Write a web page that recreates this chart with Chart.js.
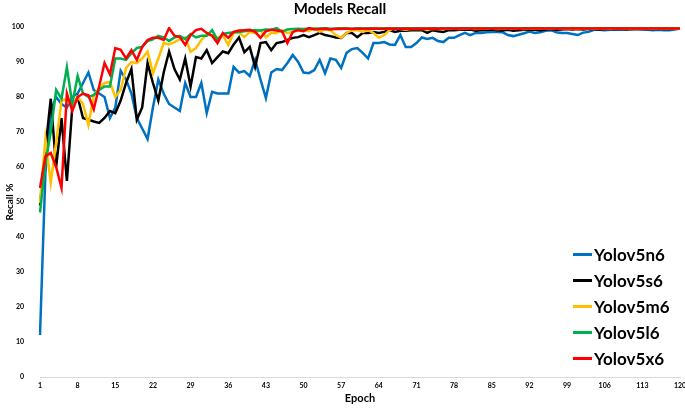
<!DOCTYPE html>
<html>
<head>
<meta charset="utf-8">
<script src="https://cdn.jsdelivr.net/npm/chart.js@4.4.0/dist/chart.umd.min.js"></script>
<style>
  html, body { margin: 0; padding: 0; background: #fff; }
  #wrap { position: relative; width: 685px; height: 409px; }
  #legend { position: absolute; left: 573px; top: 241px; font: bold 17px Lato, sans-serif; color: #000; }
  .item { display: flex; align-items: center; height: 26.2px; }
  .swatch { width: 19px; height: 3px; margin-right: 2px; }
</style>
</head>
<body>
<div id="wrap">
  <canvas id="chart"></canvas>
  <div id="legend"></div>
</div>
<script>
const epochs = Array.from({ length: 120 }, (_, i) => i + 1);
const tickEpochs = [1, 8, 15, 22, 29, 36, 43, 50, 57, 64, 71, 78, 85, 92, 99, 106, 113, 120];

const yolov5n6 = [
  12, 58, 76, 80, 78, 77, 80, 81, 84, 87,
  82, 81, 80, 74, 77, 87.5, 85, 81, 74, 71,
  68, 77, 85, 81, 78, 77, 76, 84, 80, 80,
  84, 75.4, 81.5, 81, 81, 81, 88.6, 87, 87.4, 86,
  90.6, 85, 79.7, 87, 88, 87.7, 89.7, 92, 90, 87,
  86.8, 87.7, 90.6, 86.8, 91, 90.6, 88.3, 92.6, 93.7, 94,
  92.6, 91, 95.4, 95.4, 95.7, 95, 94.9, 97.7, 94.3, 94.3,
  95.4, 97, 96.6, 96.9, 96, 95.7, 96.9, 96.9, 97.7, 98.3,
  97.7, 98.3, 98.3, 98.5, 98.6, 98.6, 98.5, 97.7, 97.4, 97.8,
  98.2, 98.7, 98.3, 98.5, 98.9, 99.1, 98.5, 98.3, 98.3, 98,
  97.7, 98.4, 98.6, 99.2, 99.2, 99.1, 99.2, 99.3, 99.2, 99.4,
  99.3, 99.4, 99.3, 99.2, 99.1, 99.2, 99.1, 99.1, 99.3, 99.6
];

const yolov5s6 = [
  49, 65, 79.5, 60, 74, 56, 77, 80, 74, 73.5,
  73, 72.6, 74, 76, 75.4, 79, 84, 88, 73.5, 77,
  89.7, 84, 79, 87, 93, 88, 85, 91, 83, 91.4,
  91, 93.4, 89.7, 91.4, 93, 92.5, 95, 97, 92.8, 94.3,
  88.6, 95.4, 95.7, 93.4, 95.4, 95.7, 96.3, 96.9, 97.1, 97.7,
  97.1, 97.7, 98.3, 97.7, 97.4, 97, 96.9, 98.3, 98.3, 97.1,
  98.3, 98.3, 98.6, 98.3, 98.6, 99.1, 98.6, 98.9, 98.9, 99.1,
  99.1, 99.1, 98.3, 99.1, 98.8, 98.6, 99.1, 99.1, 99.2, 99.2,
  99.3, 98.9, 99.1, 99.2, 99.3, 99.1, 99, 99.2, 98.9, 99.1,
  99.2, 99.3, 99.2, 99.1, 99.3, 99.4, 99.2, 99.3, 99.4, 99.3,
  99.4, 99.3, 99.4, 99.4, 99.3, 99.4, 99.5, 99.4, 99.4, 99.3,
  99.4, 99.5, 99.4, 99.4, 99.5, 99.4, 99.5, 99.4, 99.5, 99.5
];

const yolov5m6 = [
  49.7, 68, 55.5, 67, 79, 79.5, 77, 80, 78, 72,
  80.6, 82.5, 84, 84.3, 80, 82, 88.3, 90, 89.7, 91,
  93, 86.8, 91, 95.4, 95, 95.7, 96.5, 97, 92.9, 94,
  96.3, 97.7, 97.7, 96.9, 97.7, 94.9, 98.3, 98.5, 97.1, 98.6,
  98.3, 99.1, 97.1, 98.3, 98.3, 99.1, 98.3, 98.6, 99, 99.2,
  98.8, 99.7, 98.6, 99.3, 99.1, 97.7, 96.9, 98.3, 99.1, 99.1,
  98.6, 99.1, 98.3, 96.9, 97.7, 99.1, 99.7, 99.4, 99.2, 99.5,
  99.4, 99.5, 99.3, 99.4, 99.5, 99.4, 99.6, 99.5, 99.4, 99.5,
  99.5, 99.4, 99.6, 99.5, 99.5, 99.4, 99.5, 99.6, 99.5, 99.5,
  99.4, 99.5, 99.5, 99.6, 99.5, 99.5, 99.6, 99.5, 99.5, 99.6,
  99.5, 99.6, 99.6, 99.5, 99.6, 99.6, 99.5, 99.6, 99.6, 99.6,
  99.5, 99.6, 99.6, 99.6, 99.5, 99.6, 99.6, 99.6, 99.6, 99.6
];

const yolov5l6 = [
  47, 61, 70, 82, 79.5, 88.5, 78, 86, 81, 80,
  80.5, 82, 83, 83, 91, 91, 90.6, 92.5, 94, 94.3,
  96, 96.5, 97.5, 97, 96, 97, 97.5, 96.5, 98, 97,
  97.5, 97.5, 99.1, 96.3, 98, 98.3, 98.5, 98.6, 98.8, 99,
  99.1, 99, 99.3, 99.2, 99.7, 98.6, 99.3, 99.4, 99.5, 99.4,
  99.6, 99.5, 99.6, 99.7, 99.5, 99.6, 99.7, 99.6, 99.5, 99.7,
  99.6, 99.7, 99.6, 99.6, 99.7, 99.6, 99.7, 99.7, 99.6, 99.7,
  99.7, 99.6, 99.7, 99.7, 99.6, 99.7, 99.7, 99.7, 99.6, 99.7,
  99.7, 99.7, 99.6, 99.7, 99.7, 99.7, 99.7, 99.6, 99.7, 99.8,
  99.7, 99.7, 99.7, 99.7, 99.6, 99.7, 99.7, 99.7, 99.7, 99.7,
  99.7, 99.7, 99.7, 99.8, 99.7, 99.7, 99.9, 99.7, 99.7, 99.7,
  99.7, 99.7, 99.7, 99.7, 99.7, 99.7, 99.7, 99.7, 99.7, 99.7
];

const yolov5x6 = [
  54, 63, 64, 60, 54, 81, 76, 80, 81, 80.5,
  76.5, 83, 89.7, 86.5, 94, 93.5, 91, 93.4, 90.6, 94.3,
  96.3, 96.9, 96.9, 96.3, 99.7, 97.5, 97.1, 94.9, 97.7, 99.1,
  99.5, 98.3, 97.5, 95.4, 98.3, 96.9, 98.6, 99, 99.1, 99.2,
  98.6, 96.9, 98.8, 99.2, 99, 98.8, 95.4, 98.6, 99.1, 98.8,
  99.7, 99.3, 99.4, 99.5, 99.3, 99.5, 99.4, 99.6, 99.4, 99.5,
  99.5, 99.4, 99.6, 99.5, 99.4, 99.6, 99.5, 99.5, 99.6, 99.5,
  99.5, 99.6, 99.5, 99.6, 99.5, 99.6, 99.6, 99.5, 99.6, 99.6,
  99.5, 99.6, 99.6, 99.6, 99.5, 99.6, 99.6, 99.6, 99.6, 99.5,
  99.6, 99.6, 99.6, 99.6, 99.6, 99.6, 99.5, 99.6, 99.6, 99.6,
  99.6, 99.6, 99.6, 99.6, 99.6, 99.6, 99.6, 99.6, 99.6, 99.6,
  99.6, 99.6, 99.6, 99.6, 99.6, 99.6, 99.6, 99.6, 99.6, 99.6
];

const seriesNames = ['Yolov5n6', 'Yolov5s6', 'Yolov5m6', 'Yolov5l6', 'Yolov5x6'];
const seriesData = [yolov5n6, yolov5s6, yolov5m6, yolov5l6, yolov5x6];
const seriesColors = ['#0070C0', '#000000', '#FFC000', '#00B050', '#FF0000'];

const font = 'Lato, sans-serif';

const datasets = seriesNames.map((name, i) => ({
  label: name,
  data: seriesData[i],
  borderColor: seriesColors[i],
  backgroundColor: seriesColors[i],
  borderWidth: 2.5,
  pointRadius: 0,
  tension: 0,
  fill: false,
  order: seriesNames.length - 1 - i,
}));

new Chart(document.getElementById('chart'), {
  type: 'line',
  data: { labels: epochs, datasets: datasets },
  options: {
    responsive: true,
    maintainAspectRatio: false,
    animation: false,
    layout: { padding: { left: 0, right: 5, top: 0, bottom: 0 } },
    plugins: {
      legend: { display: false },
      tooltip: { enabled: false },
      title: {
        display: true,
        text: 'Models Recall',
        color: '#000',
        font: { family: font, size: 15, weight: 'bold' },
        padding: { top: 0, bottom: 9 },
      },
    },
    scales: {
      x: {
        grid: { display: true, drawOnChartArea: false, drawTicks: false },
        border: { display: true, color: '#d9d9d9', width: 1 },
        ticks: {
          autoSkip: false,
          maxRotation: 0,
          padding: 5,
          color: '#000',
          font: { family: font, size: 7, weight: 'bold' },
          callback: (v, i) => (tickEpochs.includes(epochs[i]) ? String(epochs[i]) : null),
        },
        title: {
          display: true,
          text: 'Epoch',
          color: '#000',
          font: { family: font, size: 11, weight: 'bold' },
          padding: { top: 0, bottom: 4 },
        },
        afterFit: (s) => { s.height = 32; s.paddingLeft = 0; s.paddingRight = 0; },
      },
      y: {
        min: 0,
        max: 100,
        grid: { display: false },
        border: { display: false },
        ticks: {
          stepSize: 10,
          padding: 8,
          color: '#000',
          font: { family: font, size: 7, weight: 'bold' },
        },
        title: {
          display: true,
          text: 'Recall %',
          color: '#000',
          font: { family: font, size: 10, weight: 'bold' },
          padding: { top: 4, bottom: 0 },
        },
        afterFit: (s) => { s.width = 40; },
      },
    },
  },
});

const legend = document.getElementById('legend');
seriesNames.forEach((name, i) => {
  const row = document.createElement('div');
  row.className = 'item';
  const sw = document.createElement('span');
  sw.className = 'swatch';
  sw.style.background = seriesColors[i];
  const txt = document.createElement('span');
  txt.textContent = name;
  row.appendChild(sw);
  row.appendChild(txt);
  legend.appendChild(row);
});
</script>
</body>
</html>
